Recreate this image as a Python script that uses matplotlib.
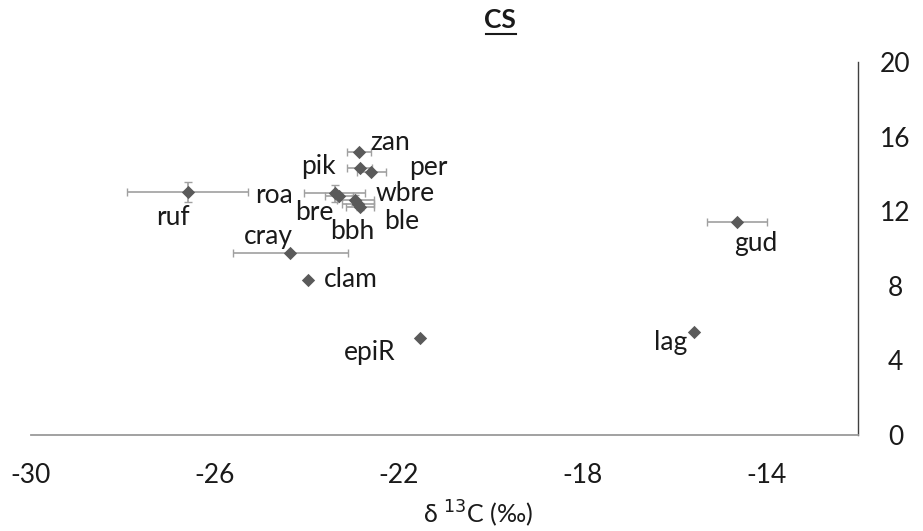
import matplotlib
matplotlib.use('Agg')
import matplotlib.pyplot as plt
from matplotlib.lines import Line2D

plt.rcParams['font.family'] = ['Lato', 'DejaVu Sans']
plt.rcParams['axes.unicode_minus'] = False

# isotope values per taxon (d13C, d15N) with sd
taxa = ['ruf', 'roa', 'bre', 'wbre', 'ble', 'bbh', 'zan', 'pik', 'per',
        'cray', 'clam', 'epiR', 'lag', 'gud']
d13c = [-26.59, -23.39, -23.30, -22.94, -22.88, -22.84, -22.87, -22.85, -22.59,
        -24.36, -23.98, -21.53, -15.56, -14.64]
d15n = [13.05, 12.96, 12.80, 12.60, 12.40, 12.25, 15.19, 14.30, 14.12,
        9.77, 8.31, 5.18, 5.50, 11.40]
c_sd = [1.32, 0.67, 0.30, 0.40, 0.35, 0.30, 0.26, 0.28, 0.32,
        1.25, 0.0, 0.0, 0.0, 0.65]
n_sd = [0.54, 0.45, 0.20, 0.25, 0.20, 0.20, 0.0, 0.0, 0.0,
        0.0, 0.0, 0.0, 0.0, 0.0]

x_ticks = [-30, -26, -22, -18, -14]
y_ticks = [0, 4, 8, 12, 16, 20]

# label offsets from the marker, in pixels
label_off = {
    'ruf': (-15, -26), 'roa': (-61, -2), 'bre': (-25, -16), 'wbre': (50, 7),
    'ble': (44, -18), 'bbh': (-8, -25), 'zan': (32, 9), 'pik': (-41, 2),
    'per': (57, 4), 'cray': (-22, 16), 'clam': (43, 1), 'epiR': (-50, -14),
    'lag': (-24, -10), 'gud': (19, -21),
}

W, H = 923, 531
fig = plt.figure(figsize=(W / 100, H / 100), dpi=100)
ax = fig.add_axes([31 / W, 1 - 435 / H, (858 - 31) / W, (435 - 62) / H])

ax.errorbar(d13c, d15n, xerr=c_sd, yerr=n_sd, fmt='none', ecolor='#a0a0a0',
            elinewidth=1.2, capsize=3, capthick=1.0, zorder=2)
ax.scatter(d13c, d15n, marker='D', s=46, color='#5a5a5a', zorder=3, linewidths=0)

for name, x, y in zip(taxa, d13c, d15n):
    dx, dy = label_off[name]
    ax.annotate(name, (x, y), xytext=(dx, dy), textcoords='offset pixels',
                ha='center', va='center', fontsize=19, color='#1a1a1a')

ax.set_xlim(-30, -12)
ax.set_ylim(0, 20)
ax.set_xticks(x_ticks)
ax.set_yticks(y_ticks)
ax.yaxis.tick_right()
ax.tick_params(axis='x', length=0, pad=20, labelsize=19, labelcolor='#1a1a1a')
ax.tick_params(axis='y', length=0, pad=27, labelsize=19, labelcolor='#1a1a1a')
for lbl in ax.get_yticklabels():
    lbl.set_horizontalalignment('center')

ax.spines['left'].set_visible(False)
ax.spines['top'].set_visible(False)
ax.spines['bottom'].set_color('#9a9a9a')
ax.spines['bottom'].set_linewidth(1.3)
ax.spines['right'].set_color('#404040')
ax.spines['right'].set_linewidth(1.0)

ax.set_xlabel('δ $^{13}$C (‰)', fontsize=18, color='#1a1a1a')
ax.xaxis.set_label_coords(0.54, -0.17)

fig.text(500 / W, 1 - 20 / H, 'CS', ha='center', va='center',
         fontsize=19, fontweight='bold', color='#1a1a1a')
fig.add_artist(Line2D([486 / W, 516 / W], [1 - 34 / H, 1 - 34 / H],
                      color='#1a1a1a', linewidth=1.5))

fig.savefig('out.png', dpi=100)
